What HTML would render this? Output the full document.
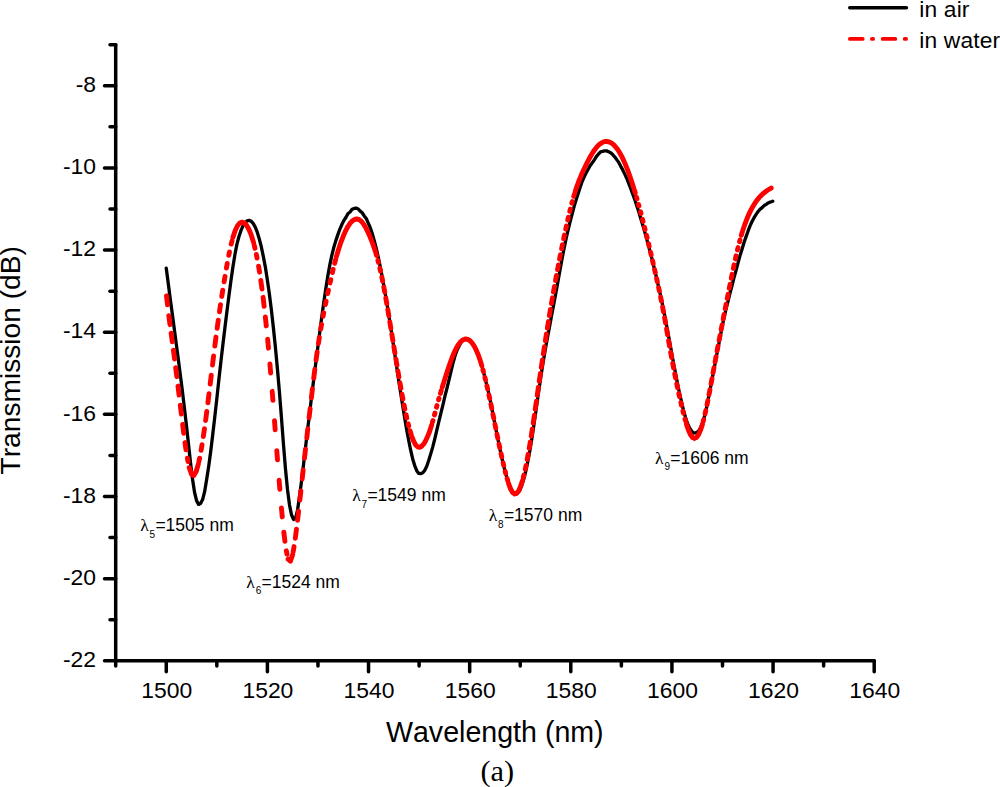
<!DOCTYPE html>
<html lang="en"><head><meta charset="utf-8"><title>Transmission spectra</title>
<style>
html,body{margin:0;padding:0;background:#fff;}
body{width:1000px;height:787px;overflow:hidden;font-family:"Liberation Sans",sans-serif;}
svg{display:block;}
text{font-family:"Liberation Sans",sans-serif;fill:#000;font-kerning:none;}
.tk{font-size:22.9px;}
.ttl{font-size:28px;}
.an{font-size:17.5px;}
.lam{font-family:"Liberation Serif",serif;font-size:17.5px;}
.sub{font-size:10px;}
.cap{font-family:"Liberation Serif",serif;font-size:30.4px;}
</style></head><body>
<svg width="1000" height="787" viewBox="0 0 1000 787">
<rect x="0" y="0" width="1000" height="787" fill="#ffffff"/>
<path d="M166.25,268.18 L168.27,283.48 L170.29,299.18 L172.31,314.07 L174.33,329.31 L176.35,344.60 L178.37,359.69 L180.39,375.35 L182.41,391.24 L184.43,408.09 L186.45,425.66 L188.47,444.02 L190.49,462.52 L192.51,479.10 L194.53,492.25 L196.55,500.64 L198.57,504.41 L200.59,503.53 L202.61,499.55 L204.63,491.66 L206.65,479.50 L208.67,466.38 L210.69,451.57 L212.71,434.73 L214.73,417.38 L216.75,399.37 L218.77,380.47 L220.79,362.57 L222.81,345.26 L224.83,328.46 L226.85,312.14 L228.87,296.21 L230.89,281.14 L232.91,266.91 L234.93,254.48 L236.95,244.15 L238.97,236.49 L240.99,230.46 L243.01,225.80 L245.03,222.84 L247.05,220.80 L249.07,220.35 L251.09,221.08 L253.11,223.44 L255.13,226.88 L257.15,231.96 L259.17,238.55 L261.19,246.23 L263.21,255.87 L265.23,266.33 L267.25,279.18 L269.27,293.18 L271.29,309.12 L273.31,326.99 L275.33,346.54 L277.35,368.02 L279.37,391.32 L281.39,416.93 L283.41,443.66 L285.43,468.31 L287.45,489.15 L289.47,504.72 L291.49,514.77 L293.51,519.42 L295.53,518.40 L297.55,510.09 L299.57,496.02 L301.59,480.59 L303.61,463.85 L305.63,446.63 L307.65,429.23 L309.67,412.58 L311.69,395.60 L313.71,379.45 L315.73,363.53 L317.75,347.88 L319.77,332.11 L321.79,316.66 L323.81,302.18 L325.83,288.45 L327.85,275.86 L329.87,264.59 L331.89,255.16 L333.91,247.07 L335.93,240.37 L337.95,234.40 L339.97,228.94 L341.99,224.28 L344.01,220.21 L346.03,217.22 L348.05,213.46 L350.07,211.99 L352.09,209.34 L354.11,208.47 L356.13,208.08 L358.15,208.93 L360.17,211.12 L362.19,212.75 L364.21,215.91 L366.23,218.46 L368.25,223.07 L370.27,227.65 L372.29,233.76 L374.31,240.93 L376.33,248.59 L378.35,257.54 L380.37,267.33 L382.39,277.88 L384.41,289.04 L386.43,300.40 L388.45,312.99 L390.47,325.79 L392.49,338.68 L394.51,352.33 L396.53,365.81 L398.55,379.34 L400.57,392.61 L402.59,404.99 L404.61,417.47 L406.63,429.53 L408.65,440.24 L410.67,450.24 L412.69,458.99 L414.71,465.55 L416.73,470.68 L418.75,473.40 L420.77,473.61 L422.79,472.81 L424.81,470.18 L426.83,466.02 L428.85,460.05 L430.87,453.39 L432.89,446.40 L434.91,438.40 L436.93,429.59 L438.95,421.20 L440.97,412.91 L442.99,404.65 L445.01,395.98 L447.03,387.98 L449.05,379.67 L451.07,371.03 L453.09,362.71 L455.11,355.51 L457.13,349.95 L459.15,345.89 L461.17,342.22 L463.19,340.05 L465.21,339.15 L467.23,338.87 L469.25,339.81 L471.27,341.57 L473.29,344.64 L475.31,348.41 L477.33,352.79 L479.35,358.00 L481.37,364.33 L483.39,371.48 L485.41,379.46 L487.43,387.99 L489.45,396.73 L491.47,406.30 L493.49,416.84 L495.51,427.09 L497.53,436.96 L499.55,447.07 L501.57,456.61 L503.59,465.33 L505.61,473.55 L507.63,480.07 L509.65,486.03 L511.67,490.42 L513.69,493.06 L515.71,494.43 L517.73,492.86 L519.75,490.35 L521.77,485.30 L523.79,479.09 L525.81,471.14 L527.83,461.48 L529.85,450.73 L531.87,438.44 L533.89,424.91 L535.91,411.12 L537.93,396.56 L539.95,382.64 L541.97,369.52 L543.99,357.20 L546.01,345.47 L548.03,334.80 L550.05,323.99 L552.07,312.96 L554.09,302.50 L556.11,291.59 L558.13,280.55 L560.15,269.11 L562.17,258.18 L564.19,248.01 L566.21,238.11 L568.23,229.42 L570.25,221.17 L572.27,213.58 L574.29,205.88 L576.31,199.35 L578.33,192.92 L580.35,186.67 L582.37,181.01 L584.39,176.46 L586.41,172.36 L588.43,168.72 L590.45,165.15 L592.47,162.58 L594.49,159.56 L596.51,156.37 L598.53,154.00 L600.55,151.84 L602.57,151.31 L604.59,150.79 L606.61,150.89 L608.63,151.76 L610.65,152.72 L612.67,154.58 L614.69,156.77 L616.71,159.63 L618.73,162.39 L620.75,166.34 L622.77,169.92 L624.79,174.12 L626.81,178.47 L628.83,183.70 L630.85,188.98 L632.87,194.37 L634.89,199.93 L636.91,206.31 L638.93,212.23 L640.95,219.20 L642.97,225.84 L644.99,232.70 L647.01,240.10 L649.03,247.67 L651.05,255.17 L653.07,263.50 L655.09,271.51 L657.11,280.38 L659.13,289.27 L661.15,298.13 L663.17,308.16 L665.19,318.10 L667.21,328.93 L669.23,339.65 L671.25,350.56 L673.27,361.75 L675.29,371.96 L677.31,382.60 L679.33,392.26 L681.35,401.19 L683.37,409.86 L685.39,416.96 L687.41,423.18 L689.43,427.68 L691.45,430.78 L693.47,433.02 L695.49,432.92 L697.51,431.86 L699.53,429.80 L701.55,425.56 L703.57,419.79 L705.59,412.37 L707.61,402.39 L709.63,392.14 L711.65,381.45 L713.67,370.84 L715.69,360.23 L717.71,349.74 L719.73,339.39 L721.75,328.62 L723.77,318.88 L725.79,310.12 L727.81,302.18 L729.83,293.76 L731.85,286.28 L733.87,278.14 L735.89,271.01 L737.91,263.33 L739.93,255.87 L741.95,249.55 L743.97,242.73 L745.99,236.90 L748.01,231.21 L750.03,225.92 L752.05,221.50 L754.07,217.69 L756.09,214.40 L758.11,211.52 L760.13,209.14 L762.15,207.68 L764.17,205.50 L766.19,204.37 L768.21,202.98 L770.23,202.05 L772.25,201.52 L772.75,201.16" fill="none" stroke="#000" stroke-width="3.3" stroke-linejoin="round" stroke-linecap="round"/>
<path d="M166.48,295.81L167.53,304.85 M168.82,315.66L170.00,324.68 M171.13,333.27L172.30,341.80 M173.42,350.13L174.60,359.15 M175.70,367.64L176.83,376.67 M177.99,386.07L179.08,395.10 M180.29,405.11L181.37,414.14 M182.61,424.34L183.75,433.37 M184.96,442.57L186.03,449.89 M187.37,458.18L188.05,461.63 M189.20,467.47L191.50,474.24 M191.50,474.24L193.80,475.51 M193.80,475.51L196.10,471.72 M196.10,471.72L198.40,463.86 M198.90,461.46L199.59,458.13 M201.10,450.33L202.03,444.77 M203.35,436.47L204.45,428.78 M205.62,420.46L206.79,411.44 M207.90,402.83L209.01,393.80 M210.19,384.15L211.28,375.11 M212.50,364.99L213.60,355.96 M214.81,346.12L215.98,337.09 M217.14,328.31L218.28,320.13 M219.46,311.82L220.52,304.72 M221.78,296.41L222.77,290.15 M224.10,281.86L225.02,276.31 M226.43,268.03L227.25,263.52 M228.79,255.27L229.48,251.94 M231.20,244.11L232.04,240.82 M232.90,237.40L235.20,230.53 M235.20,230.53L237.50,225.80 M237.50,225.80L239.80,223.04 M239.80,223.04L242.10,222.16 M242.10,222.16L244.40,223.04 M244.40,223.04L246.70,225.52 M246.70,225.52L249.00,229.55 M249.00,229.55L251.30,235.17 M251.30,235.17L253.60,242.62 M254.18,245.00L254.98,248.31 M256.37,254.51L257.05,257.99 M258.59,266.25L259.55,272.16 M260.83,280.46L262.00,288.98 M263.09,297.31L264.15,306.35 M265.35,316.88L266.29,325.93 M267.63,339.12L268.47,348.18 M269.91,363.94L270.67,373.01 M272.19,391.33L272.90,400.40 M274.49,420.63L275.18,429.71 M276.79,450.66L277.50,459.73 M279.10,480.15L279.86,489.22 M281.43,507.86L282.29,516.92 M283.80,532.17L284.91,541.20 M286.31,550.80L287.02,554.13 M288.10,559.16L290.40,561.21 M290.40,561.21L292.70,554.50 M293.10,552.08L294.02,546.56 M295.31,538.26L296.46,529.24 M297.58,520.24L298.60,511.19 M299.87,499.94L300.86,490.89 M302.17,478.92L303.17,469.87 M304.48,458.21L305.50,449.17 M306.78,437.86L307.81,428.82 M309.08,417.76L310.13,408.72 M311.39,397.85L312.46,388.81 M313.71,378.40L314.84,369.37 M316.04,360.08L317.18,351.92 M318.38,343.60L319.37,337.40 M320.73,329.11L321.55,324.50 M323.07,316.24L323.75,312.78 M325.40,304.54L326.10,301.21 M327.72,293.59L328.44,290.26 M330.03,282.96L330.77,279.64 M332.36,272.59L333.15,269.28 M334.61,263.33L335.72,259.14 M336.40,256.60L338.70,248.95 M338.70,248.95L341.00,242.09 M341.00,242.09L343.30,236.03 M343.30,236.03L345.60,230.82 M345.60,230.82L347.90,226.51 M347.90,226.51L350.20,223.13 M350.20,223.13L352.50,220.73 M352.50,220.73L354.80,219.34 M354.80,219.34L357.10,219.02 M357.10,219.02L359.12,219.65 M359.12,219.65L361.14,221.15 M361.14,221.15L363.16,223.53 M363.16,223.53L365.18,226.68 M365.18,226.68L367.20,230.50 M367.20,230.50L369.22,234.87 M369.22,234.87L371.24,239.74 M371.24,239.74L373.26,245.16 M373.26,245.16L375.28,251.22 M375.83,253.07L376.57,255.60 M377.92,260.43L378.43,262.38 M379.87,268.21L380.55,271.19 M381.83,277.06L382.66,281.16 M383.80,287.05L384.74,292.12 M385.80,298.02L386.80,303.80 M387.80,309.71L388.84,315.94 M389.81,321.86L390.87,328.31 M391.83,334.23L392.89,340.71 M393.86,346.63L394.91,353.02 M395.88,358.94L396.92,365.13 M397.91,371.05L398.92,376.94 M399.95,382.85L400.92,388.29 M401.99,394.19L402.90,399.02 M404.05,404.91L404.87,408.98 M406.12,414.85L406.82,418.01 M408.21,423.85L408.74,425.94 M410.02,430.69L411.11,434.29 M411.64,436.03L413.66,441.25 M413.66,441.25L415.68,444.89 M415.68,444.89L417.70,446.85 M417.70,446.85L419.72,447.23 M419.72,447.23L421.74,446.20 M421.74,446.20L423.76,443.90 M423.76,443.90L425.78,440.48 M425.78,440.48L427.80,436.09 M427.80,436.09L429.82,430.76 M429.89,430.54L431.74,424.80 M432.50,422.14L432.94,420.60 M434.48,414.95L434.98,413.05 M436.52,407.25L436.97,405.57 M438.57,399.79L439.01,398.25 M440.41,393.43L441.29,390.48 M442.24,387.32L443.56,383.07 M444.13,381.23L445.75,376.12 M446.01,375.30L447.96,369.32 M448.00,369.19L450.02,363.26 M450.02,363.26L452.04,357.75 M452.04,357.75L454.06,352.80 M454.06,352.80L456.08,348.55 M456.08,348.55L458.10,345.06 M458.10,345.06L460.12,342.35 M460.12,342.35L462.14,340.42 M462.14,340.42L464.16,339.31 M464.16,339.31L466.18,339.01 M466.18,339.01L468.20,339.54 M468.20,339.54L470.22,340.91 M470.22,340.91L472.24,343.13 M472.24,343.13L474.26,346.22 M474.26,346.22L476.28,350.19 M476.28,350.19L478.30,355.05 M478.30,355.05L480.32,360.81 M480.74,362.21L481.78,365.64 M482.97,369.86L483.45,371.65 M484.93,377.46L485.55,380.00 M486.92,385.84L487.62,388.99 M488.91,394.85L489.68,398.47 M490.91,404.34L491.72,408.28 M492.93,414.16L493.76,418.27 M494.94,424.15L495.78,428.28 M496.97,434.16L497.79,438.16 M499.00,444.04L499.79,447.76 M501.05,453.62L501.77,456.91 M503.10,462.76L503.74,465.47 M505.18,471.29L505.69,473.27 M507.13,478.58L507.87,481.06 M508.60,483.55L510.62,489.04 M510.62,489.04L512.64,492.58 M512.64,492.58L514.66,493.97 M514.66,493.97L516.68,493.29 M516.68,493.29L518.70,490.64 M518.70,490.64L520.72,486.09 M520.89,485.56L522.52,480.41 M523.33,477.34L523.90,475.07 M525.26,469.23L526.06,465.38 M527.22,459.50L528.17,454.29 M529.20,448.38L530.24,442.05 M531.19,436.13L532.30,428.96 M533.20,423.03L534.34,415.27 M535.21,409.34L536.37,401.26 M537.23,395.33L538.40,387.20 M539.25,381.27L540.41,373.36 M541.28,367.42L542.41,359.87 M543.31,353.94L544.42,346.74 M545.34,340.81L546.43,333.97 M547.37,328.05L548.43,321.57 M549.41,315.65L550.43,309.52 M551.44,303.61L552.44,297.83 M553.47,291.92L554.44,286.50 M555.50,280.59L556.44,275.52 M557.54,269.62L558.44,264.89 M559.57,259.00L560.44,254.61 M561.61,248.72L562.43,244.68 M563.65,238.80L564.43,235.10 M565.69,229.23L566.42,225.92 M567.73,220.06L568.40,217.21 M569.79,211.37L570.37,209.05 M571.86,203.24L572.32,201.53 M573.75,196.39L574.59,193.58 M575.26,191.31L577.28,185.30 M577.28,185.30L579.30,179.94 M579.30,179.94L581.32,175.08 M581.32,175.08L583.34,170.55 M583.34,170.55L585.36,166.23 M585.36,166.23L587.38,162.13 M587.38,162.13L589.40,158.28 M589.40,158.28L591.42,154.74 M591.42,154.74L593.44,151.54 M593.44,151.54L595.46,148.71 M595.46,148.71L597.48,146.30 M597.48,146.30L599.50,144.35 M599.50,144.35L601.52,142.89 M601.52,142.89L603.54,141.93 M603.54,141.93L605.56,141.47 M605.56,141.47L607.58,141.53 M607.58,141.53L609.60,142.10 M609.60,142.10L611.62,143.18 M611.62,143.18L613.64,144.78 M613.64,144.78L615.66,146.90 M615.66,146.90L617.68,149.55 M617.68,149.55L619.70,152.73 M619.70,152.73L621.72,156.43 M621.72,156.43L623.74,160.63 M623.74,160.63L625.76,165.31 M625.76,165.31L627.78,170.44 M627.78,170.44L629.80,176.01 M629.80,176.01L631.82,181.97 M631.97,182.43L633.64,187.70 M634.28,189.77L635.28,193.08 M636.54,197.37L636.98,198.91 M638.53,204.41L638.96,205.96 M640.53,211.75L641.01,213.56 M642.53,219.37L643.06,221.43 M644.53,227.25L645.10,229.53 M646.54,235.35L647.14,237.83 M648.55,243.67L649.18,246.32 M650.56,252.16L651.21,254.96 M652.57,260.80L653.24,263.73 M654.58,269.58L655.27,272.60 M656.59,278.46L657.31,281.66 M658.59,287.52L659.36,291.08 M660.59,296.95L661.41,301.03 M662.58,306.91L663.48,311.68 M664.57,317.58L665.54,323.11 M666.57,329.02L667.58,334.86 M668.60,340.77L669.59,346.38 M670.64,352.29L671.58,357.45 M672.68,363.35L673.57,368.04 M674.72,373.93L675.56,378.14 M676.77,384.02L677.55,387.74 M678.81,393.60L679.53,396.80 M680.87,402.65L681.50,405.32 M682.92,411.15L683.46,413.27 M685.01,419.07L685.44,420.61 M686.36,423.85L688.38,429.89 M688.38,429.89L690.40,434.49 M690.40,434.49L692.42,437.36 M692.42,437.36L694.44,438.36 M694.44,438.36L696.46,437.52 M696.46,437.52L698.48,434.84 M698.48,434.84L700.50,430.36 M700.59,430.09L702.40,424.44 M703.13,421.71L703.66,419.65 M705.07,413.82L705.79,410.53 M707.04,404.66L707.88,400.45 M709.03,394.56L709.94,389.72 M711.04,383.83L711.98,378.69 M713.06,372.79L714.00,367.66 M715.09,361.76L716.01,356.78 M717.11,350.88L718.02,346.04 M719.14,340.14L720.04,335.43 M721.16,329.54L722.05,324.95 M723.19,319.06L724.06,314.59 M725.21,308.70L726.07,304.34 M727.24,298.45L728.09,294.19 M729.26,288.30L730.10,284.13 M731.29,278.25L732.11,274.28 M733.33,268.41L734.10,264.79 M735.38,258.93L736.08,255.83 M737.44,249.98L738.04,247.56 M739.52,241.75L739.97,240.10 M741.31,235.32L742.38,231.80 M742.92,230.01L744.94,224.07 M744.94,224.07L746.96,218.77 M746.96,218.77L748.98,214.07 M748.98,214.07L751.00,209.90 M751.00,209.90L753.02,206.22 M753.02,206.22L755.04,202.98 M755.04,202.98L757.06,200.15 M757.06,200.15L759.08,197.68 M759.08,197.68L761.10,195.52 M761.10,195.52L763.12,193.65 M763.12,193.65L765.14,192.00 M765.14,192.00L767.16,190.55 M767.16,190.55L769.18,189.25 M769.18,189.25L771.20,188.05" fill="none" stroke="#ff0000" stroke-width="4.9" stroke-linecap="round"/>
<g stroke="#000" stroke-width="3.5" stroke-linecap="round" fill="none">
<path d="M115.7,44.7 L115.7,660.8"/>
<path d="M115.7,660.8 L874.20,660.8"/>
<path d="M115.7,660.80 L104.5,660.80"/>
<path d="M115.7,619.73 L110.0,619.73"/>
<path d="M115.7,578.65 L104.5,578.65"/>
<path d="M115.7,537.58 L110.0,537.58"/>
<path d="M115.7,496.51 L104.5,496.51"/>
<path d="M115.7,455.43 L110.0,455.43"/>
<path d="M115.7,414.36 L104.5,414.36"/>
<path d="M115.7,373.29 L110.0,373.29"/>
<path d="M115.7,332.21 L104.5,332.21"/>
<path d="M115.7,291.14 L110.0,291.14"/>
<path d="M115.7,250.07 L104.5,250.07"/>
<path d="M115.7,208.99 L110.0,208.99"/>
<path d="M115.7,167.92 L104.5,167.92"/>
<path d="M115.7,126.85 L110.0,126.85"/>
<path d="M115.7,85.77 L104.5,85.77"/>
<path d="M115.7,44.70 L110.0,44.70"/>
<path d="M115.70,660.8 L115.70,666.1"/>
<path d="M166.27,660.8 L166.27,671.7"/>
<path d="M216.83,660.8 L216.83,666.1"/>
<path d="M267.40,660.8 L267.40,671.7"/>
<path d="M317.97,660.8 L317.97,666.1"/>
<path d="M368.53,660.8 L368.53,671.7"/>
<path d="M419.10,660.8 L419.10,666.1"/>
<path d="M469.67,660.8 L469.67,671.7"/>
<path d="M520.23,660.8 L520.23,666.1"/>
<path d="M570.80,660.8 L570.80,671.7"/>
<path d="M621.37,660.8 L621.37,666.1"/>
<path d="M671.93,660.8 L671.93,671.7"/>
<path d="M722.50,660.8 L722.50,666.1"/>
<path d="M773.07,660.8 L773.07,671.7"/>
<path d="M823.63,660.8 L823.63,666.1"/>
<path d="M874.20,660.8 L874.20,671.7"/>
</g>
<text class="tk" x="96" y="667.00" text-anchor="end">-22</text>
<text class="tk" x="96" y="584.85" text-anchor="end">-20</text>
<text class="tk" x="96" y="502.71" text-anchor="end">-18</text>
<text class="tk" x="96" y="420.56" text-anchor="end">-16</text>
<text class="tk" x="96" y="338.41" text-anchor="end">-14</text>
<text class="tk" x="96" y="256.27" text-anchor="end">-12</text>
<text class="tk" x="96" y="174.12" text-anchor="end">-10</text>
<text class="tk" x="96" y="91.97" text-anchor="end">-8</text>
<text class="tk" x="166.77" y="698.2" text-anchor="middle">1500</text>
<text class="tk" x="267.90" y="698.2" text-anchor="middle">1520</text>
<text class="tk" x="369.03" y="698.2" text-anchor="middle">1540</text>
<text class="tk" x="470.17" y="698.2" text-anchor="middle">1560</text>
<text class="tk" x="571.30" y="698.2" text-anchor="middle">1580</text>
<text class="tk" x="672.43" y="698.2" text-anchor="middle">1600</text>
<text class="tk" x="773.57" y="698.2" text-anchor="middle">1620</text>
<text class="tk" x="874.70" y="698.2" text-anchor="middle">1640</text>
<text class="ttl" style="font-size:28.6px" x="494.8" y="742.4" text-anchor="middle">Wavelength (nm)</text>
<text class="ttl" style="font-size:28.15px" transform="translate(20.0,360.3) rotate(-90)" text-anchor="middle">Transmission (dB)</text>
<text class="cap" x="497.3" y="780.6" text-anchor="middle">(a)</text>
<text class="lam" x="140.2" y="531.4">λ</text>
<text class="an sub" x="149.6" y="538.0">5</text>
<text class="an" x="155.4" y="531.4">=1505 nm</text>
<text class="lam" x="246.3" y="587.6">λ</text>
<text class="an sub" x="255.7" y="594.2">6</text>
<text class="an" x="261.5" y="587.6">=1524 nm</text>
<text class="lam" x="352.2" y="501.1">λ</text>
<text class="an sub" x="361.6" y="507.7">7</text>
<text class="an" x="367.4" y="501.1">=1549 nm</text>
<text class="lam" x="488.7" y="521.1">λ</text>
<text class="an sub" x="498.1" y="527.7">8</text>
<text class="an" x="503.9" y="521.1">=1570 nm</text>
<text class="lam" x="655.1" y="463.7">λ</text>
<text class="an sub" x="664.5" y="470.3">9</text>
<text class="an" x="670.3" y="463.7">=1606 nm</text>
<path d="M849.8,7.8 L906.4,7.8" stroke="#000" stroke-width="3.6" stroke-linecap="round" fill="none"/>
<path d="M849.9,38.9 L862.7,38.9 M871.9,38.9 L873.1,38.9 M882.7,38.9 L895.3,38.9 M904.7,38.9 L906.1,38.9" stroke="#ff0000" stroke-width="3.8" stroke-linecap="round" fill="none"/>
<text class="tk" style="font-size:22.8px;letter-spacing:0.15px" x="919.3" y="16.8">in air</text>
<text class="tk" style="font-size:22.8px;letter-spacing:0.15px" x="919.3" y="47.7">in water</text>
</svg>
</body></html>
